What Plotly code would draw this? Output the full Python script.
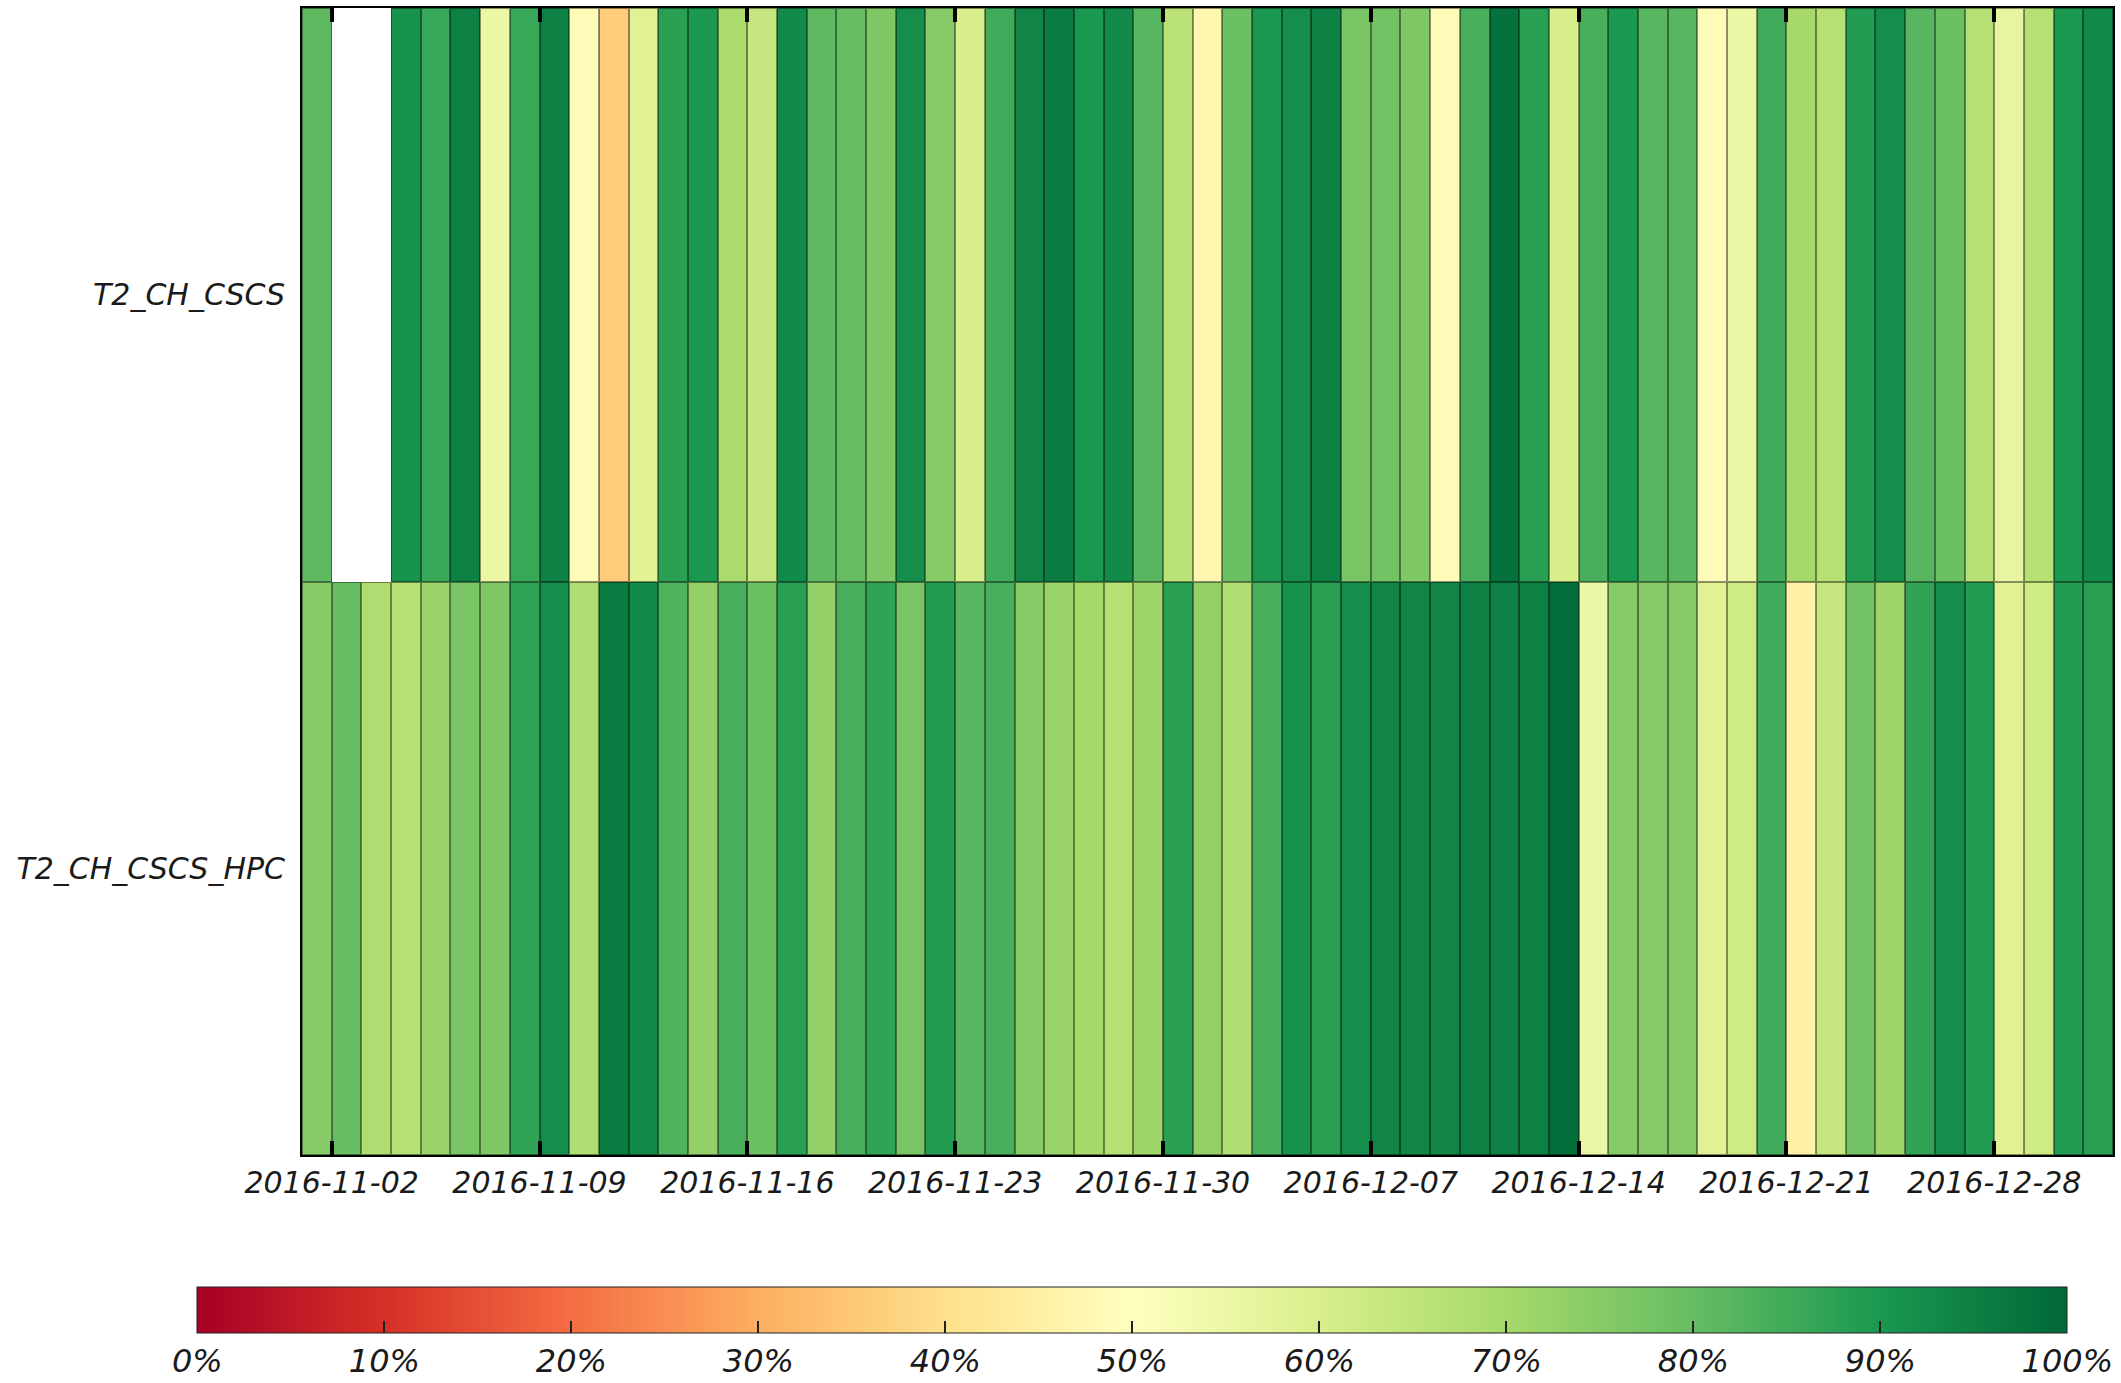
import pandas as pd
import plotly.graph_objects as go

# Daily availability per site, 2016-11-01 .. 2016-12-31 (fraction, None = no data)
sites = ["T2_CH_CSCS", "T2_CH_CSCS_HPC"]

cscs = [0.81, None, None, 0.91, 0.86, 0.95, 0.55, 0.86, 0.95, 0.49, 0.36, 0.58, 0.88, 0.90, 0.69,
        0.64, 0.93, 0.81, 0.80, 0.76, 0.92, 0.75, 0.60, 0.85, 0.94, 0.96, 0.90, 0.93, 0.82, 0.66,
        0.47, 0.79, 0.90, 0.92, 0.95, 0.77, 0.78, 0.76, 0.49, 0.84, 0.98, 0.88, 0.60, 0.84, 0.90,
        0.82, 0.82, 0.49, 0.55, 0.85, 0.70, 0.67, 0.89, 0.92, 0.82, 0.79, 0.67, 0.56, 0.67, 0.90, 0.93]

hpc = [0.75, 0.80, 0.68, 0.67, 0.72, 0.77, 0.76, 0.87, 0.92, 0.68, 0.96, 0.93, 0.83, 0.73, 0.84,
       0.79, 0.88, 0.73, 0.84, 0.87, 0.77, 0.89, 0.82, 0.84, 0.75, 0.72, 0.70, 0.67, 0.71, 0.88,
       0.73, 0.68, 0.84, 0.91, 0.88, 0.92, 0.94, 0.94, 0.94, 0.95, 0.95, 0.95, 0.99, 0.55, 0.75,
       0.75, 0.75, 0.58, 0.62, 0.85, 0.45, 0.64, 0.78, 0.71, 0.87, 0.92, 0.89, 0.58, 0.62, 0.89, 0.88]

# Cell edges: one day per column
day_edges = pd.date_range("2016-11-01", "2017-01-01", freq="D")
week_ticks = pd.date_range("2016-11-02", "2016-12-28", freq="7D")

cbar_vals = [i / 10 for i in range(11)]
cbar_text = [f"{i * 10}%" for i in range(11)]

# RdYlGn stops
rdylgn = ["#a50026", "#d73027", "#f46d43", "#fdae61", "#fee08b", "#ffffbf",
          "#d9ef8b", "#a6d96a", "#66bd63", "#1a9850", "#006837"]


def shade(hex_color, k):
    r, g, b = (int(hex_color[i:i + 2], 16) for i in (1, 3, 5))
    return f"rgb({int(r * k)},{int(g * k)},{int(b * k)})"


n = len(rdylgn) - 1
scale = [[i / n, c] for i, c in enumerate(rdylgn)]
edge_scale = [[i / n, shade(c, 0.58)] for i, c in enumerate(rdylgn)]

z = [cscs, hpc]

tick_font = dict(family="DejaVu Sans", size=30, color="#1a1a1a", style="italic")
cbar_font = dict(family="DejaVu Sans", size=32, color="#1a1a1a", style="italic")

fig = go.Figure()

# darker copy underneath: shows through the cell gaps as edge lines
fig.add_trace(go.Heatmap(
    z=z, x=day_edges, y=sites, zmin=0, zmax=1,
    colorscale=edge_scale, showscale=False, hoverinfo="skip",
))

fig.add_trace(go.Heatmap(
    z=z, x=day_edges, y=sites, zmin=0, zmax=1,
    colorscale=scale, xgap=2, ygap=2,
    colorbar=dict(
        orientation="h",
        x=0.4585, xanchor="center",
        y=-0.1155, yanchor="top", ypad=0,
        len=1890, lenmode="pixels",
        thickness=46,
        outlinewidth=1, outlinecolor="#222",
        tickvals=cbar_vals, ticktext=cbar_text,
        ticks="inside", ticklen=12, tickwidth=1.5, tickcolor="#222",
        tickfont=cbar_font,
    ),
))

fig.update_layout(
    width=2121, height=1383,
    margin=dict(l=302, r=8, t=8, b=228, autoexpand=False),
    paper_bgcolor="white", plot_bgcolor="white",
    showlegend=False,
)

fig.update_xaxes(
    type="date",
    range=[day_edges[0], day_edges[-1]],
    tickvals=week_ticks, tickformat="%Y-%m-%d",
    ticks="inside", ticklen=14, tickwidth=4, tickcolor="black",
    showline=True, linecolor="black", linewidth=2, mirror="ticks",
    showgrid=False, zeroline=False,
    tickfont=tick_font,
)

fig.update_yaxes(
    type="category", autorange="reversed",
    ticks="", showline=True, linecolor="black", linewidth=2, mirror=True,
    showgrid=False, zeroline=False,
    ticklabelstandoff=9,
    tickfont=tick_font,
)

fig.write_html("out.html")
